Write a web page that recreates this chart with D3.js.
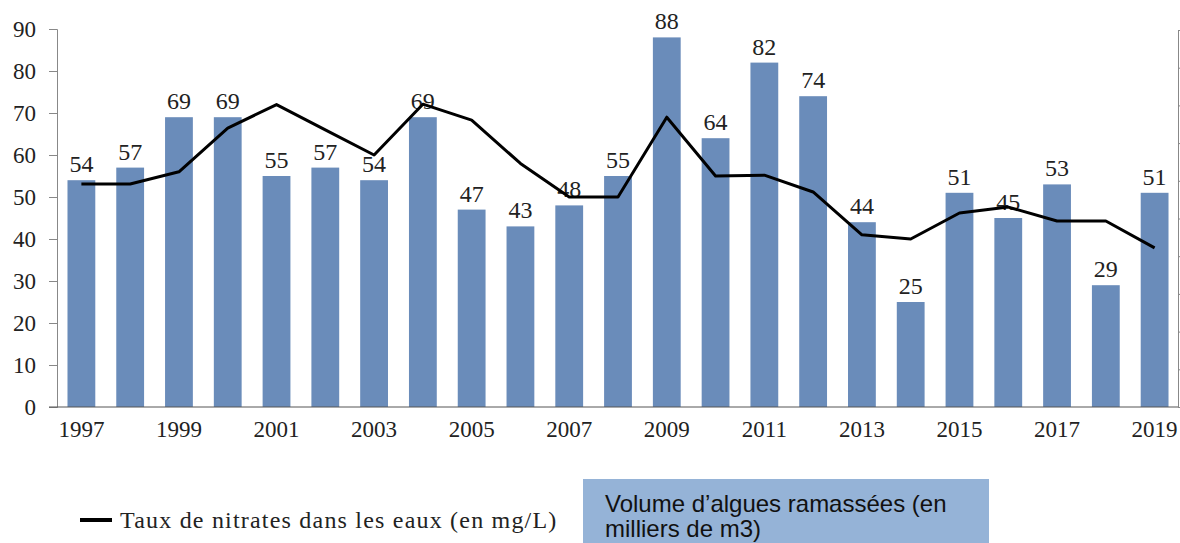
<!DOCTYPE html>
<html>
<head>
<meta charset="utf-8">
<script src="https://cdn.jsdelivr.net/npm/d3@7"></script>
<style>
  body { margin: 0; background: #fff; }
  svg { display: block; }
</style>
</head>
<body>
<div id="graph"></div>
<script>
// data
const years = d3.range(1997, 2020);
const algues = [54, 57, 69, 69, 55, 57, 54, 69, 47, 43, 48, 55, 88, 64, 82, 74, 44, 25, 51, 45, 53, 29, 51];
const nitrates = [53.1, 53.1, 56, 66.4, 72, 66, 60, 72.1, 68.3, 58, 50, 50, 69, 55, 55.2, 51.2, 41, 40, 46.2, 47.6, 44.3, 44.3, 37.9];
const yTicks = [0, 10, 20, 30, 40, 50, 60, 70, 80, 90];
const xLabels = [1997, 1999, 2001, 2003, 2005, 2007, 2009, 2011, 2013, 2015, 2017, 2019];

const width = 1180;
const height = 543;
const margin = {top: 29, bottom: 136, left: 57, right: 2};
const serif = "'Liberation Serif', 'Times New Roman', serif";

const svg = d3.select("#graph")
    .append("svg")
    .attr("width", width)
    .attr("height", height);

const x = d3.scaleBand()
    .domain(years)
    .range([margin.left, width - margin.right + 1])
    .paddingInner(0.43)
    .paddingOuter(0.215);

const y = d3.scaleLinear()
    .domain([0, 90])
    .range([height - margin.bottom, margin.top]);

// right axis: ticks only, no labels
const yRight = d3.scaleLinear()
    .domain([0, 100])
    .range([height - margin.bottom, 30]);

svg.selectAll("rect.bar")
    .data(algues)
    .join("rect")
    .attr("class", "bar")
    .attr("x", (d, i) => x(years[i]))
    .attr("y", d => y(d))
    .attr("width", x.bandwidth())
    .attr("height", d => y(0) - y(d))
    .attr("fill", "#6a8cba");

function yAxis(g) {
    g.attr("transform", `translate(${margin.left}, 0)`)
     .call(d3.axisLeft(y).tickValues(yTicks).tickSize(8).tickPadding(13))
     .attr("font-family", serif)
     .attr("font-size", "23px");
    g.select(".domain").attr("stroke", "#888");
    g.selectAll(".tick line").attr("stroke", "#888");
    g.selectAll(".tick text").attr("fill", "#222");
}

function yAxisRight(g) {
    g.attr("transform", `translate(${width - 2}, 0)`)
     .call(d3.axisRight(yRight).ticks(10).tickSize(3).tickFormat(""));
    g.select(".domain").attr("stroke", "#888");
    g.selectAll(".tick line").attr("stroke", "#888");
}

function xAxis(g) {
    g.attr("transform", `translate(0, ${y(0)})`)
     .call(d3.axisBottom(x).tickValues(xLabels).tickSize(0).tickPadding(14))
     .attr("font-family", serif)
     .attr("font-size", "23px");
    g.select(".domain").attr("d", `M${margin.left - 8},0H${width - 2}`).attr("stroke", "#555");
    g.selectAll(".tick text").attr("fill", "#222");
}

svg.append("g").call(yAxis);
svg.append("g").call(yAxisRight);
svg.append("g").call(xAxis);

// value labels above bars
svg.selectAll("text.val")
    .data(algues)
    .join("text")
    .attr("class", "val")
    .attr("x", (d, i) => x(years[i]) + x.bandwidth() / 2)
    .attr("y", d => y(d) - 8)
    .attr("text-anchor", "middle")
    .attr("font-family", serif)
    .attr("font-size", "24px")
    .attr("fill", "#222")
    .text(d => d);

const line = d3.line()
    .x((d, i) => x(years[i]) + x.bandwidth() / 2)
    .y(d => y(d));

svg.append("path")
    .datum(nitrates)
    .attr("d", line)
    .attr("fill", "none")
    .attr("stroke", "#000")
    .attr("stroke-width", 3)
    .attr("stroke-linejoin", "round");

// legend
svg.append("line")
    .attr("x1", 80).attr("x2", 112)
    .attr("y1", 520).attr("y2", 520)
    .attr("stroke", "#000")
    .attr("stroke-width", 4);

svg.append("text")
    .attr("x", 120)
    .attr("y", 528)
    .attr("font-family", serif)
    .attr("font-size", "24px")
    .attr("letter-spacing", "1.2px")
    .attr("fill", "#222")
    .text("Taux de nitrates dans les eaux (en mg/L)");

svg.append("rect")
    .attr("x", 583).attr("y", 479)
    .attr("width", 406).attr("height", 70)
    .attr("fill", "#95b3d7");

const box = svg.append("text")
    .attr("font-family", "'Liberation Sans', Arial, sans-serif")
    .attr("font-size", "24px")
    .attr("fill", "#111");
box.append("tspan").attr("x", 605).attr("y", 512).text("Volume d\u2019algues ramassées (en");
box.append("tspan").attr("x", 605).attr("y", 537).text("milliers de m3)");
</script>
</body>
</html>
